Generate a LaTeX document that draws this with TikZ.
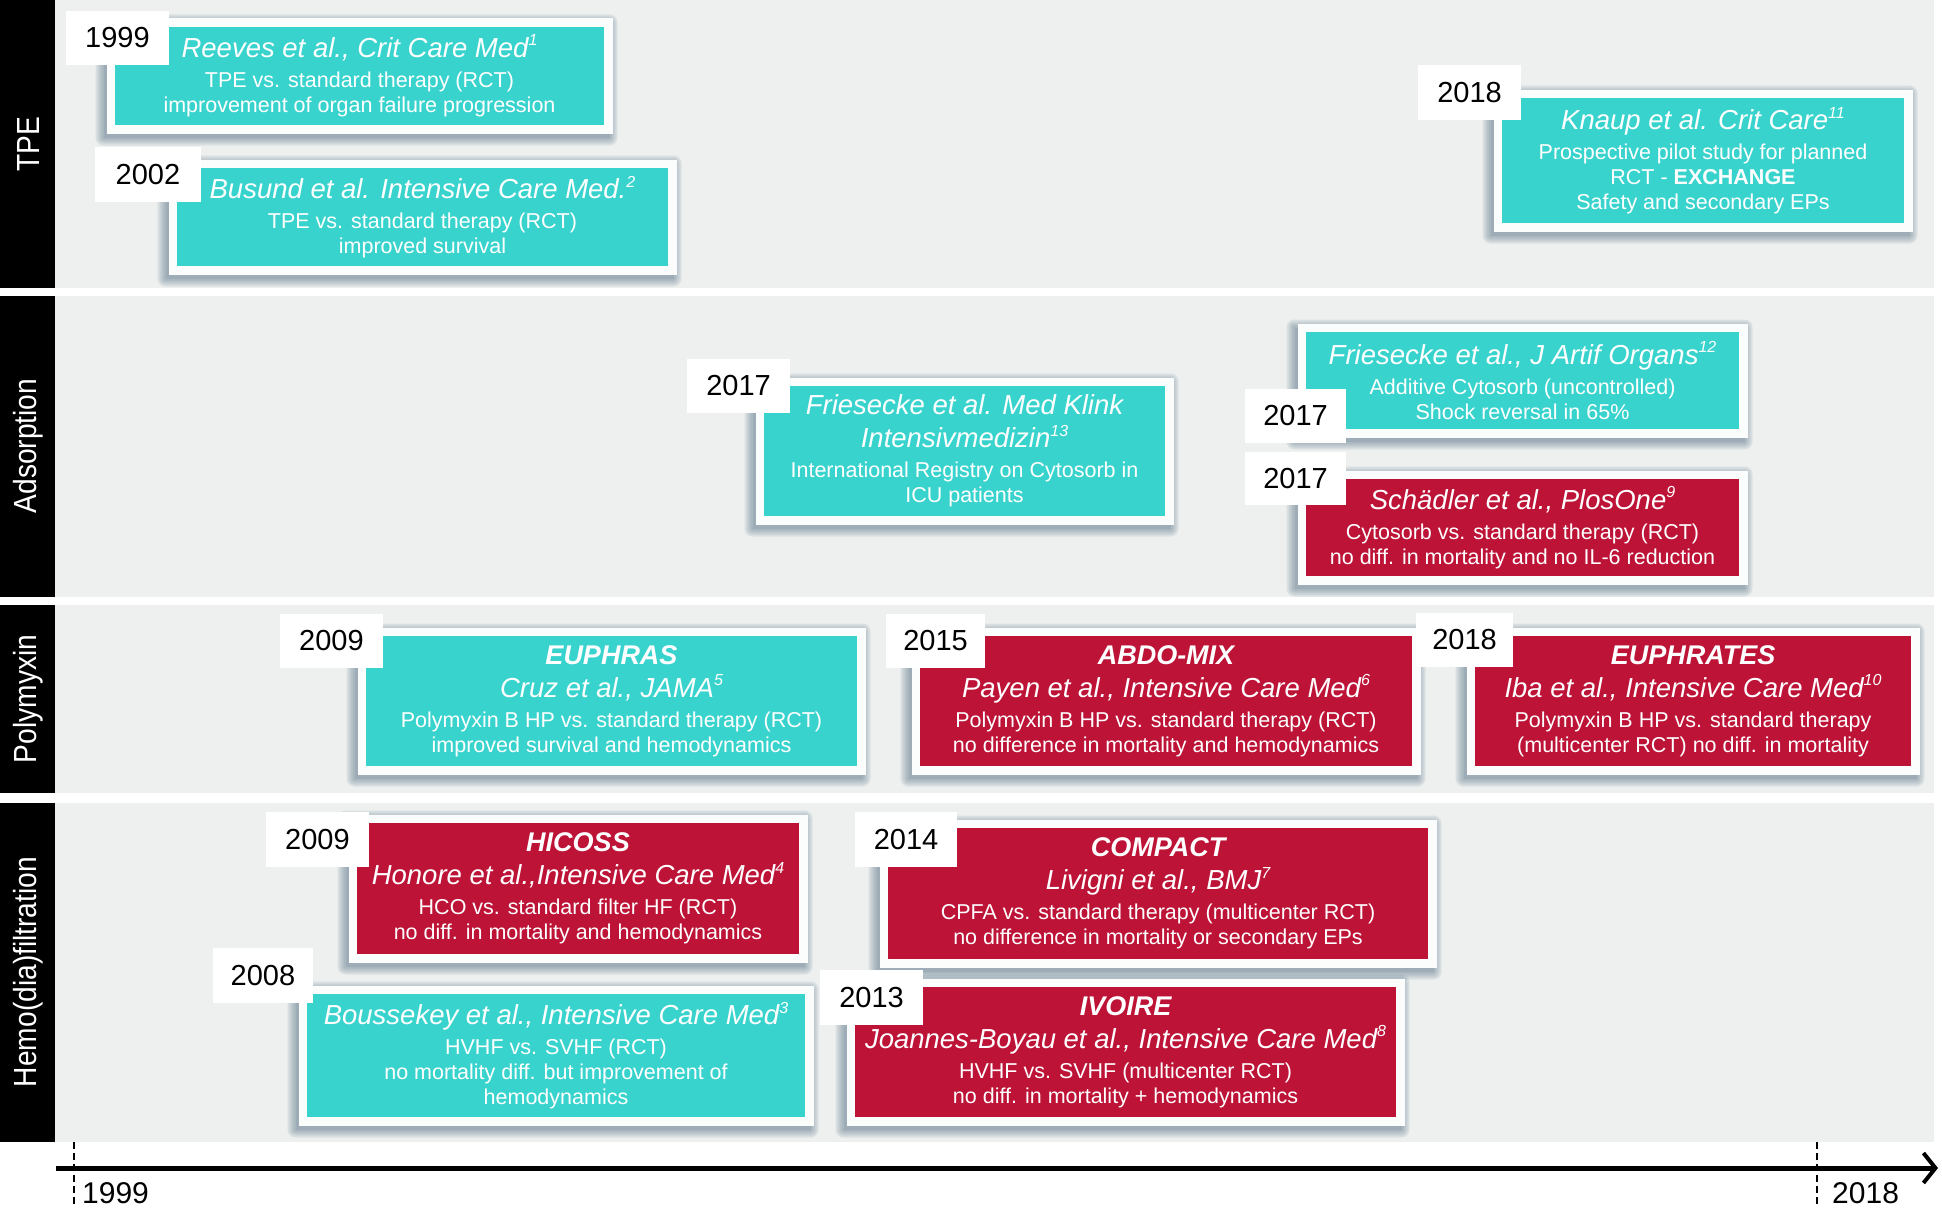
\documentclass[tikz,border=0pt]{standalone}
\usepackage{fontspec}
\setmainfont{Liberation Sans}
\newfontfamily\sidefont[FakeStretch=0.88]{Liberation Sans}
\usetikzlibrary{arrows.meta}
\definecolor{bandgrey}{HTML}{EDF0EF}
\definecolor{cyanbox}{HTML}{39D3CE}
\definecolor{redbox}{HTML}{BD1337}
\definecolor{framewhite}{HTML}{FBFDFC}
\definecolor{shadowcol}{HTML}{3E5A70}
\newcommand\supx[1]{\raisebox{0.42em}{\fontsize{16}{16}\selectfont #1}}
\newcommand\ttl{\fontsize{27.5}{30}\selectfont\itshape}
\newcommand\hdr{\fontsize{27}{30}\selectfont\bfseries\itshape}
\newcommand\bdy{\fontsize{21.5}{30}\selectfont}
\tikzset{
  band/.style={fill=bandgrey, draw=none},
  sidebar/.style={fill=black, draw=none},
  sidelabel/.style={text=white, rotate=90, font=\sidefont\fontsize{32}{32}\selectfont, inner sep=0pt},
  wframe/.style={fill=framewhite, draw=none, inner sep=0pt},
  softshadow/.style={fill=shadowcol, opacity=0.11, draw=none},
  entry/.style={draw=none, text=white, align=center, inner sep=0pt, font=\bdy},
  cyanentry/.style={entry, fill=cyanbox},
  redentry/.style={entry, fill=redbox},
  yearbox/.style={fill=white, draw=none, text=black, inner sep=0pt, font=\fontsize{29}{32}\selectfont},
  axislabel/.style={text=black, inner sep=0pt, font=\fontsize{30}{32}\selectfont},
  ticklinestyle/.style={draw=black, line width=2pt, dash pattern=on 7pt off 4pt},
  axisline/.style={draw=black, line width=5pt, -{Straight Barb[length=12pt,width=30pt,line width=4pt]}},
}
\newcommand\study[7]{%
  \foreach \k in {0,2,4,6,8}{%
    \fill[softshadow, rounded corners=\k pt]
      ({#3-#5/2-8.5-3-\k},{#4+#6/2+8.5+4+\k}) rectangle ({#3+#5/2+8.5-3+\k},{#4-#6/2-8.5+4-\k});
  }
  \node[wframe, minimum width=#5pt+17pt, minimum height=#6pt+17pt] (#1F) at (#3,#4) {};
  \node[#2, minimum width=#5pt, minimum height=#6pt] (#1) at (#3,#4) {#7};
}
\newcommand\yearlabel[6]{%
  \node[yearbox, minimum width=#4pt, minimum height=#5pt] (#1) at (#2,#3) {#6};
}
\begin{document}
\begin{tikzpicture}[x=1pt,y=-1pt]
\useasboundingbox (0,0) rectangle (1942,1207);
\fill[white] (0,0) rectangle (1942,1207);
% bands
\fill[band] (55,0) rectangle (1934,288);
\fill[band] (55,296) rectangle (1934,597);
\fill[band] (55,605) rectangle (1934,793);
\fill[band] (55,803) rectangle (1934,1142);
\fill[sidebar] (0,0) rectangle (55,288);
\fill[sidebar] (0,296) rectangle (55,597);
\fill[sidebar] (0,605) rectangle (55,793);
\fill[sidebar] (0,803) rectangle (55,1142);
\node[sidelabel] (labTPE) at (28,144) {TPE};
\node[sidelabel] (labAds) at (28,446) {Adsorption};
\node[sidelabel] (labPoly) at (28,699) {Polymyxin};
\node[sidelabel] (labHemo) at (28,972) {Hemo(dia)filtration};
% TPE
\study{reeves}{cyanentry}{359.5}{76}{489}{98}{{\ttl Reeves et al., Crit Care Med\supx{1}}\\TPE vs. standard therapy (RCT)\\[-5pt]improvement of organ failure progression}
\study{busund}{cyanentry}{422.5}{217}{491}{98}{{\ttl Busund et al. Intensive Care Med.\supx{2}}\\TPE vs. standard therapy (RCT)\\[-5pt]improved survival}
\study{knaup}{cyanentry}{1703}{160.5}{402}{125}{{\ttl Knaup et al. Crit Care\supx{11}}\\Prospective pilot study for planned\\[-5pt]RCT - \textbf{EXCHANGE}\\[-5pt]Safety and secondary EPs}
% Adsorption
\study{medklink}{cyanentry}{964.5}{451}{401}{130}{{\ttl Friesecke et al. Med Klink}\\[3pt]{\ttl Intensivmedizin\supx{13}}\\International Registry on Cytosorb in\\[-5pt]ICU patients}
\study{artif}{cyanentry}{1522.5}{380.5}{433}{97}{{\ttl Friesecke et al., J Artif Organs\supx{12}}\\Additive Cytosorb (uncontrolled)\\[-5pt]Shock reversal in 65\%}
\study{schaedler}{redentry}{1522.5}{527.5}{433}{97}{{\ttl Schädler et al., PlosOne\supx{9}}\\Cytosorb vs. standard therapy (RCT)\\[-5pt]no diff. in mortality and no IL-6 reduction}
% Polymyxin
\study{euphras}{cyanentry}{611.5}{701}{491}{130}{{\hdr EUPHRAS}\\[3pt]{\ttl Cruz et al., JAMA\supx{5}}\\Polymyxin B HP vs. standard therapy (RCT)\\[-5pt]improved survival and hemodynamics}
\study{abdomix}{redentry}{1166}{701}{492}{130}{{\hdr ABDO-MIX}\\[3pt]{\ttl Payen et al., Intensive Care Med\supx{6}}\\Polymyxin B HP vs. standard therapy (RCT)\\[-5pt]no difference in mortality and hemodynamics}
\study{euphrates}{redentry}{1693}{701}{436}{130}{{\hdr EUPHRATES}\\[3pt]{\ttl Iba et al., Intensive Care Med\supx{10}}\\Polymyxin B HP vs. standard therapy\\[-5pt](multicenter RCT) no diff. in mortality}
% Hemo(dia)filtration
\study{hicoss}{redentry}{578}{888.5}{442}{131}{{\hdr HICOSS}\\[3pt]{\ttl Honore et al.,Intensive Care Med\supx{4}}\\HCO vs. standard filter HF (RCT)\\[-5pt]no diff. in mortality and hemodynamics}
\study{compact}{redentry}{1158}{893.5}{540}{131}{{\hdr COMPACT}\\[3pt]{\ttl Livigni et al., BMJ\supx{7}}\\CPFA vs. standard therapy (multicenter RCT)\\[-5pt]no difference in mortality or secondary EPs}
\study{boussekey}{cyanentry}{556}{1055.5}{498}{123}{{\ttl Boussekey et al., Intensive Care Med\supx{3}}\\HVHF vs. SVHF (RCT)\\[-5pt]no mortality diff. but improvement of\\[-5pt]hemodynamics}
\study{ivoire}{redentry}{1125.5}{1052}{541}{130}{{\hdr IVOIRE}\\[3pt]{\ttl Joannes-Boyau et al., Intensive Care Med\supx{8}}\\HVHF vs. SVHF (multicenter RCT)\\[-5pt]no diff. in mortality + hemodynamics}
% year labels
\yearlabel{yReeves}{117.5}{38}{103}{54}{1999}
\yearlabel{yBusund}{148}{174.5}{106}{55}{2002}
\yearlabel{yKnaup}{1469.5}{92.5}{103}{55}{2018}
\yearlabel{yMedKlink}{738.5}{386}{103}{54}{2017}
\yearlabel{yArtif}{1295.5}{416}{101}{54}{2017}
\yearlabel{ySchaedler}{1295.5}{478.5}{101}{53}{2017}
\yearlabel{yEuphras}{331.5}{641}{103}{54}{2009}
\yearlabel{yAbdomix}{935.5}{641}{99}{54}{2015}
\yearlabel{yEuphrates}{1464.5}{640}{97}{54}{2018}
\yearlabel{yHicoss}{317.5}{839.5}{103}{55}{2009}
\yearlabel{yCompact}{906}{839.5}{102}{55}{2014}
\yearlabel{yBoussekey}{263}{975.5}{100}{55}{2008}
\yearlabel{yIvoire}{871.5}{997.5}{103}{55}{2013}
% axis
\coordinate (axS) at (56,1168);
\coordinate (axE) at (1938,1168);
\draw[axisline] (axS) -- (axE);
\coordinate (tickAtop) at (74,1142);
\coordinate (tickAbot) at (74,1207);
\coordinate (tickBtop) at (1817,1142);
\coordinate (tickBbot) at (1817,1207);
\draw[ticklinestyle] (tickAtop) -- (tickAbot);
\draw[ticklinestyle] (tickBtop) -- (tickBbot);
\node[axislabel, anchor=base west] (ax1999) at (82,1203) {1999};
\node[axislabel, anchor=base west] (ax2018) at (1832,1203) {2018};
\end{tikzpicture}
\end{document}
